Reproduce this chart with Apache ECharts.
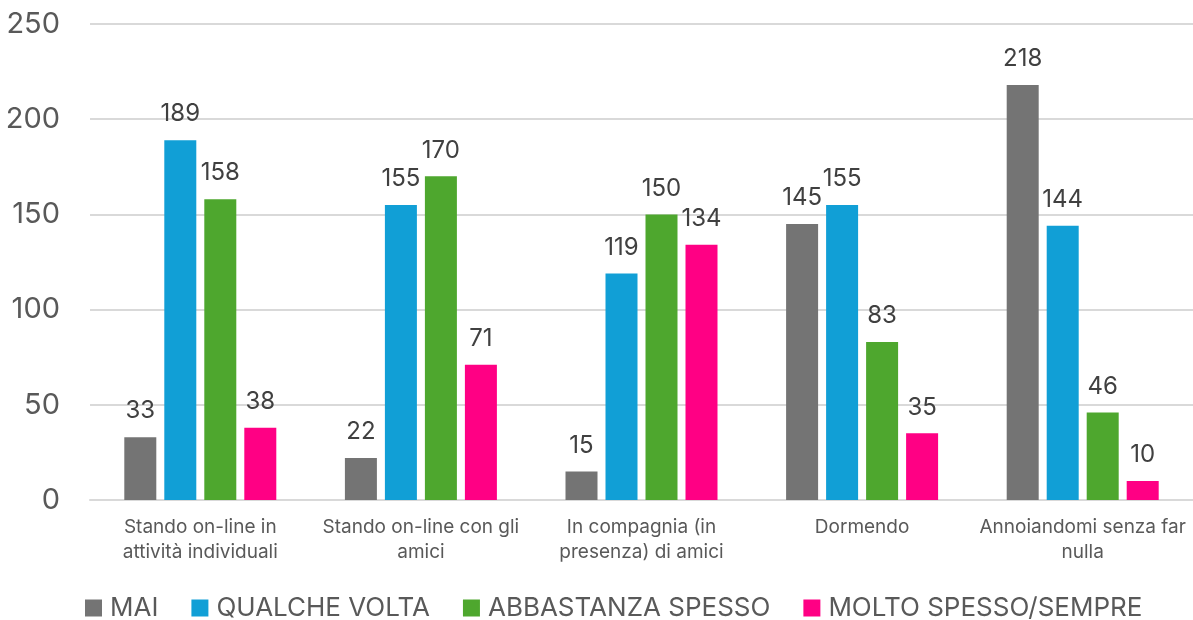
<!DOCTYPE html>
<html>
<head>
<meta charset="utf-8">
<script src="https://cdn.jsdelivr.net/npm/echarts@6/dist/echarts.min.js"></script>
<style>
  html, body { margin: 0; padding: 0; background: #fff; }
  #chart { width: 1193px; height: 620px; }
</style>
</head>
<body>
<div id="chart"></div>
<script>
// categorie
var categories = [
  "Stando on-line in\nattività individuali",
  "Stando on-line con gli\namici",
  "In compagnia (in\npresenza) di amici",
  "Dormendo",
  "Annoiandomi senza far\nnulla"
];
var seriesNames = ["MAI", "QUALCHE VOLTA", "ABBASTANZA SPESSO", "MOLTO SPESSO/SEMPRE"];
var mai = [33, 22, 15, 145, 218];
var qualcheVolta = [189, 155, 119, 155, 144];
var abbastanzaSpesso = [158, 170, 150, 83, 46];
var moltoSpesso = [38, 71, 134, 35, 10];
var colors = ["#747474", "#119fd6", "#4ea72e", "#ff0084"];

var font = "Inter, 'Noto Sans', sans-serif";
var chart = echarts.init(document.getElementById("chart"));

function makeSeries(name, data) {
  return {
    name: name,
    type: "bar",
    data: data,
    barWidth: 32,
    barGap: "25%",
    label: {
      show: true,
      position: "top",
      distance: 14,
      color: "#404040",
      fontSize: 24,
      fontFamily: font
    }
  };
}

var option = {
  animation: false,
  color: colors,
  textStyle: { fontFamily: font },
  grid: {
    top: 24,
    left: 90,
    right: 0,
    bottom: 120
  },
  legend: {
    top: 590,
    left: 80,
    itemWidth: 17,
    itemHeight: 17,
    itemGap: 33,
    icon: "rect",
    textStyle: {
      color: "#595959",
      fontSize: 26,
      padding: [0, 0, 0, 3],
      fontFamily: font
    },
    data: seriesNames
  },
  xAxis: {
    type: "category",
    data: categories,
    axisTick: { show: false },
    axisLine: { lineStyle: { color: "#d9d9d9", width: 2 } },
    axisLabel: {
      interval: 0,
      color: "#595959",
      fontSize: 19,
      lineHeight: 25,
      margin: 15,
      fontFamily: font
    }
  },
  yAxis: {
    type: "value",
    min: 0,
    max: 250,
    interval: 50,
    axisLine: { show: false },
    axisTick: { show: false },
    splitLine: { lineStyle: { color: "#d9d9d9", width: 2 } },
    axisLabel: {
      color: "#595959",
      fontSize: 29,
      margin: 30,
      fontFamily: font
    }
  },
  series: [
    makeSeries(seriesNames[0], mai),
    makeSeries(seriesNames[1], qualcheVolta),
    makeSeries(seriesNames[2], abbastanzaSpesso),
    makeSeries(seriesNames[3], moltoSpesso)
  ]
};

chart.setOption(option);
</script>
</body>
</html>
